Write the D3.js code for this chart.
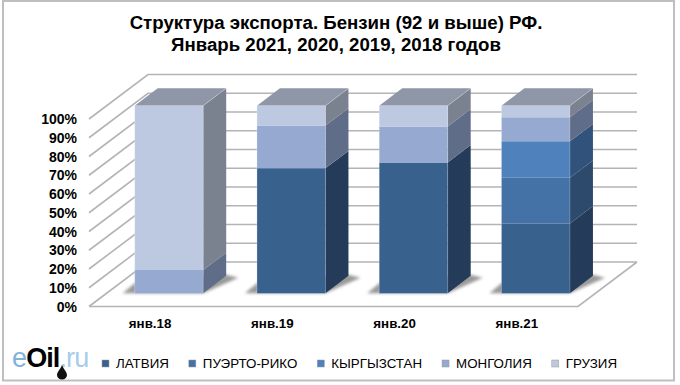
<!DOCTYPE html>
<html>
<head>
<meta charset="utf-8">
<script src="https://cdn.jsdelivr.net/npm/d3@7"></script>
<style>
  html, body { margin: 0; padding: 0; background: #fff; }
  text { font-family: "Liberation Sans", Arial, sans-serif; fill: #000; }
</style>
</head>
<body>
<div id="chart"></div>
<script>
const categories = ["янв.18", "янв.19", "янв.20", "янв.21"];
const seriesNames = ["ЛАТВИЯ", "ПУЭРТО-РИКО", "КЫРГЫЗСТАН", "МОНГОЛИЯ", "ГРУЗИЯ"];
const latvia = [0, 66.6, 69.7, 37.2];
const puertoRico = [0, 0, 0, 24.3];
const kyrgyzstan = [0, 0, 0, 19.5];
const mongolia = [12.3, 22.8, 19.2, 12.8];
const georgia = [87.7, 10.6, 11.1, 6.2];
const tickValues = [0, 10, 20, 30, 40, 50, 60, 70, 80, 90, 100];

const frontColors = ["#39618e", "#4471a6", "#4f81bd", "#95a9d1", "#bdc9e1"];
const sideColors = ["#243b5a", "#2d4a6d", "#31527a", "#5f6d88", "#7a818f"];
const topColor = "#8f96a8";
const gridColor = "#b4b4b4";

const width = 680;
const height = 385;

const svg = d3
  .select("#chart")
  .append("svg")
  .attr("width", width)
  .attr("height", height)
  .style("display", "block");

const defs = svg.append("defs");
defs.append("filter").attr("id", "shadow").attr("x", "-30%").attr("y", "-60%").attr("width", "160%").attr("height", "220%")
  .append("feGaussianBlur").attr("stdDeviation", 1.6);
defs.append("filter").attr("id", "soft").append("feGaussianBlur").attr("stdDeviation", 0.5);

// frame
svg.append("rect")
  .attr("x", 3).attr("y", 1)
  .attr("width", 671).attr("height", 379.5)
  .attr("fill", "#fff").attr("stroke", "#bfbfbf").attr("stroke-width", 2);

// scales for the front plane of the floor, depth is added by project()
const x = d3.scaleBand().domain(categories).range([89, 578]);
const y = d3.scaleLinear().domain([0, 100]).range([306.5, 119]);
const floorDx = 59;
const floorDy = -44.5;

function project(px, py, depth) {
  return [px + floorDx * depth, py + floorDy * depth];
}

function poly(points) {
  return points.map((p) => p.join(",")).join(" ");
}

// walls and grid
const grid = svg.append("g").attr("fill", "none").attr("stroke", gridColor).attr("stroke-width", 1.6);
tickValues.forEach((t) => {
  const a = project(x.range()[0], y(t), 0);
  const b = project(x.range()[0], y(t), 1);
  const c = project(x.range()[1], y(t), 1);
  grid.append("polyline").attr("points", poly([a, b, c]));
});
grid.append("polyline").attr("points", poly([
  project(x.range()[0], y(0), 0),
  project(x.range()[1], y(0), 0),
  project(x.range()[1], y(0), 1)
]));

// y labels
svg.append("g")
  .selectAll("text")
  .data(tickValues)
  .enter()
  .append("text")
  .attr("x", 77)
  .attr("y", (d) => y(d) + 5)
  .attr("text-anchor", "end")
  .style("font-size", "14px")
  .style("font-weight", "bold")
  .text((d) => d + "%");

// bars
const series = [latvia, puertoRico, kyrgyzstan, mongolia, georgia];
const stacked = d3.stack().keys(d3.range(series.length)).value((row, key) => row[key])(
  categories.map((c, i) => series.map((s) => s[i]))
);

const depthFront = 0.3;
const depthBack = 0.69;
const barInset = 28;
const barWidth = x.bandwidth() - 53.75;

const bars = svg.append("g");
categories.forEach((cat, i) => {
  const left = x(cat) + barInset;
  const right = left + barWidth;
  const g = bars.append("g");

  // floor shadow
  const backRight = project(right, y(0), depthBack);
  const frontLeft = project(left, y(0), depthFront);
  const frontRight = project(right, y(0), depthFront);
  g.append("polygon")
    .attr("points", poly([
      [frontLeft[0] - 12, frontLeft[1]],
      frontRight,
      [backRight[0] + 12, backRight[1] + 2],
      [backRight[0], backRight[1] - 1],
      [frontLeft[0], frontLeft[1] - 10]
    ]))
    .attr("fill", "#9a9a9a")
    .attr("filter", "url(#shadow)");

  stacked.forEach((layer, k) => {
    const [y0, y1] = layer[i];
    if (y1 - y0 <= 0) return;
    // side face
    g.append("polygon")
      .attr("points", poly([
        project(right, y(y0), depthFront),
        project(right, y(y1), depthFront),
        project(right, y(y1), depthBack),
        project(right, y(y0), depthBack)
      ]))
      .attr("fill", sideColors[k]);
    // front face
    g.append("polygon")
      .attr("points", poly([
        project(left, y(y0), depthFront),
        project(right, y(y0), depthFront),
        project(right, y(y1), depthFront),
        project(left, y(y1), depthFront)
      ]))
      .attr("fill", frontColors[k]);
  });

  // top face
  g.append("polygon")
    .attr("points", poly([
      project(left, y(100), depthFront),
      project(right, y(100), depthFront),
      project(right, y(100), depthBack),
      project(left, y(100), depthBack)
    ]))
    .attr("fill", topColor);

  // light edges around the box
  g.append("polyline")
    .attr("points", poly([
      project(left, y(0), depthFront),
      project(left, y(100), depthFront),
      project(right, y(100), depthFront),
      project(right, y(100), depthBack)
    ]))
    .attr("fill", "none")
    .attr("stroke", "#fff")
    .attr("stroke-opacity", 0.25)
    .attr("stroke-width", 1);
  g.append("line")
    .attr("x1", frontRight[0])
    .attr("y1", frontRight[1])
    .attr("x2", project(right, y(100), depthFront)[0])
    .attr("y2", project(right, y(100), depthFront)[1])
    .attr("stroke", "#fff")
    .attr("stroke-opacity", 0.2)
    .attr("stroke-width", 1);
});

// category labels
svg.append("g")
  .selectAll("text")
  .data(categories)
  .enter()
  .append("text")
  .attr("x", (d) => x(d) + x.bandwidth() / 2)
  .attr("y", 328)
  .attr("text-anchor", "middle")
  .style("font-size", "13.33px")
  .style("font-weight", "bold")
  .text((d) => d);

// title
const title = svg.append("g")
  .attr("text-anchor", "middle")
  .style("font-size", "18.67px")
  .style("font-weight", "bold");
title.append("text").attr("x", 336).attr("y", 29).text("Структура экспорта. Бензин (92 и выше) РФ.");
title.append("text").attr("x", 336).attr("y", 50.5).text("Январь 2021, 2020, 2019, 2018 годов");

// legend
let legendX = 102;
const legend = svg.append("g");
seriesNames.forEach((name, k) => {
  legend.append("rect")
    .attr("x", legendX).attr("y", 360)
    .attr("width", 7).attr("height", 7)
    .attr("fill", frontColors[k])
    .attr("stroke", "#999").attr("stroke-width", 0.5);
  const label = legend.append("text")
    .attr("x", legendX + 14)
    .attr("y", 368)
    .style("font-size", "13.33px")
    .text(name);
  legendX += 14 + label.node().getComputedTextLength() + 20;
});

// eOil.ru logo
const logo = svg.append("g");
logo.append("text")
  .attr("x", 12)
  .attr("y", 367)
  .style("font-size", "27px")
  .style("letter-spacing", "-0.9px")
  .call((t) => {
    t.append("tspan").style("fill", "#7fb2dc").text("e");
    t.append("tspan").style("fill", "#000").style("font-weight", "bold").text("Oil");
    t.append("tspan").style("fill", "#a5cdea").text(".ru");
  });
logo.append("path")
  .attr("d", "M62 365 C60 370 57 372 57 375 A5 4.5 0 0 0 67 375 C67 372 64 370 62 365 Z")
  .attr("fill", "#111");
</script>
</body>
</html>
